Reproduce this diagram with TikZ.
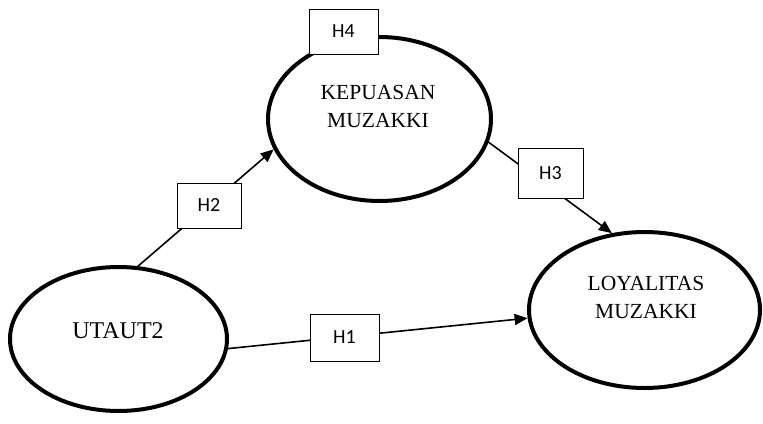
\documentclass[tikz,border=0pt]{standalone}
\usepackage{fontspec}
\setmainfont{Liberation Serif}
\newfontfamily\calib{Carlito}
\usetikzlibrary{arrows.meta,shapes.geometric}
\tikzset{
  construct/.style={draw, ellipse, line width=4pt, inner sep=0pt, outer sep=2pt},
  ctext/.style={align=center, font=\fontsize{21.5}{28}\selectfont, inner sep=0pt},
  hbox/.style={draw, line width=0.9pt, fill=white, inner sep=0pt, font=\calib\fontsize{20}{24}\selectfont},
  conn/.style={line width=1.6pt, line cap=round},
  arr/.style={conn, -{Triangle[length=13pt,width=11pt]}}
}
\begin{document}
\begin{tikzpicture}[x=1pt,y=-1pt]
\useasboundingbox (0,0) rectangle (763,423);
% constructs
\node[construct, minimum width=217pt, minimum height=144pt] (u) at (118.5,339) {};
\node[construct, minimum width=223pt, minimum height=164pt] (k) at (379.5,119) {};
\node[construct, minimum width=231pt, minimum height=156pt] (l) at (644.5,310) {};
\node[ctext, font=\fontsize{24}{28}\selectfont] (ut) at (118,331) {UTAUT2};
\node[ctext] (kt) at (378,106) {KEPUASAN\\MUZAKKI};
\node[ctext] (lt) at (646,297.5) {LOYALITAS\\MUZAKKI};
% connectors
\draw[arr] (u.75) -- (k.196);
\draw[arr] (u.-5) -- (l.184);
\draw[arr] (k.-12) -- (l.113);
% hypothesis boxes
\node[hbox, minimum width=69pt, minimum height=45pt] (h4) at (343.5,31.5) {H4};
\node[hbox, minimum width=64pt, minimum height=45pt] (h2) at (209,205.5) {H2};
\node[hbox, minimum width=69pt, minimum height=47pt] (h1) at (344.5,337.5) {H1};
\node[hbox, minimum width=65pt, minimum height=50pt] (h3) at (550.5,173) {H3};
\end{tikzpicture}
\end{document}
